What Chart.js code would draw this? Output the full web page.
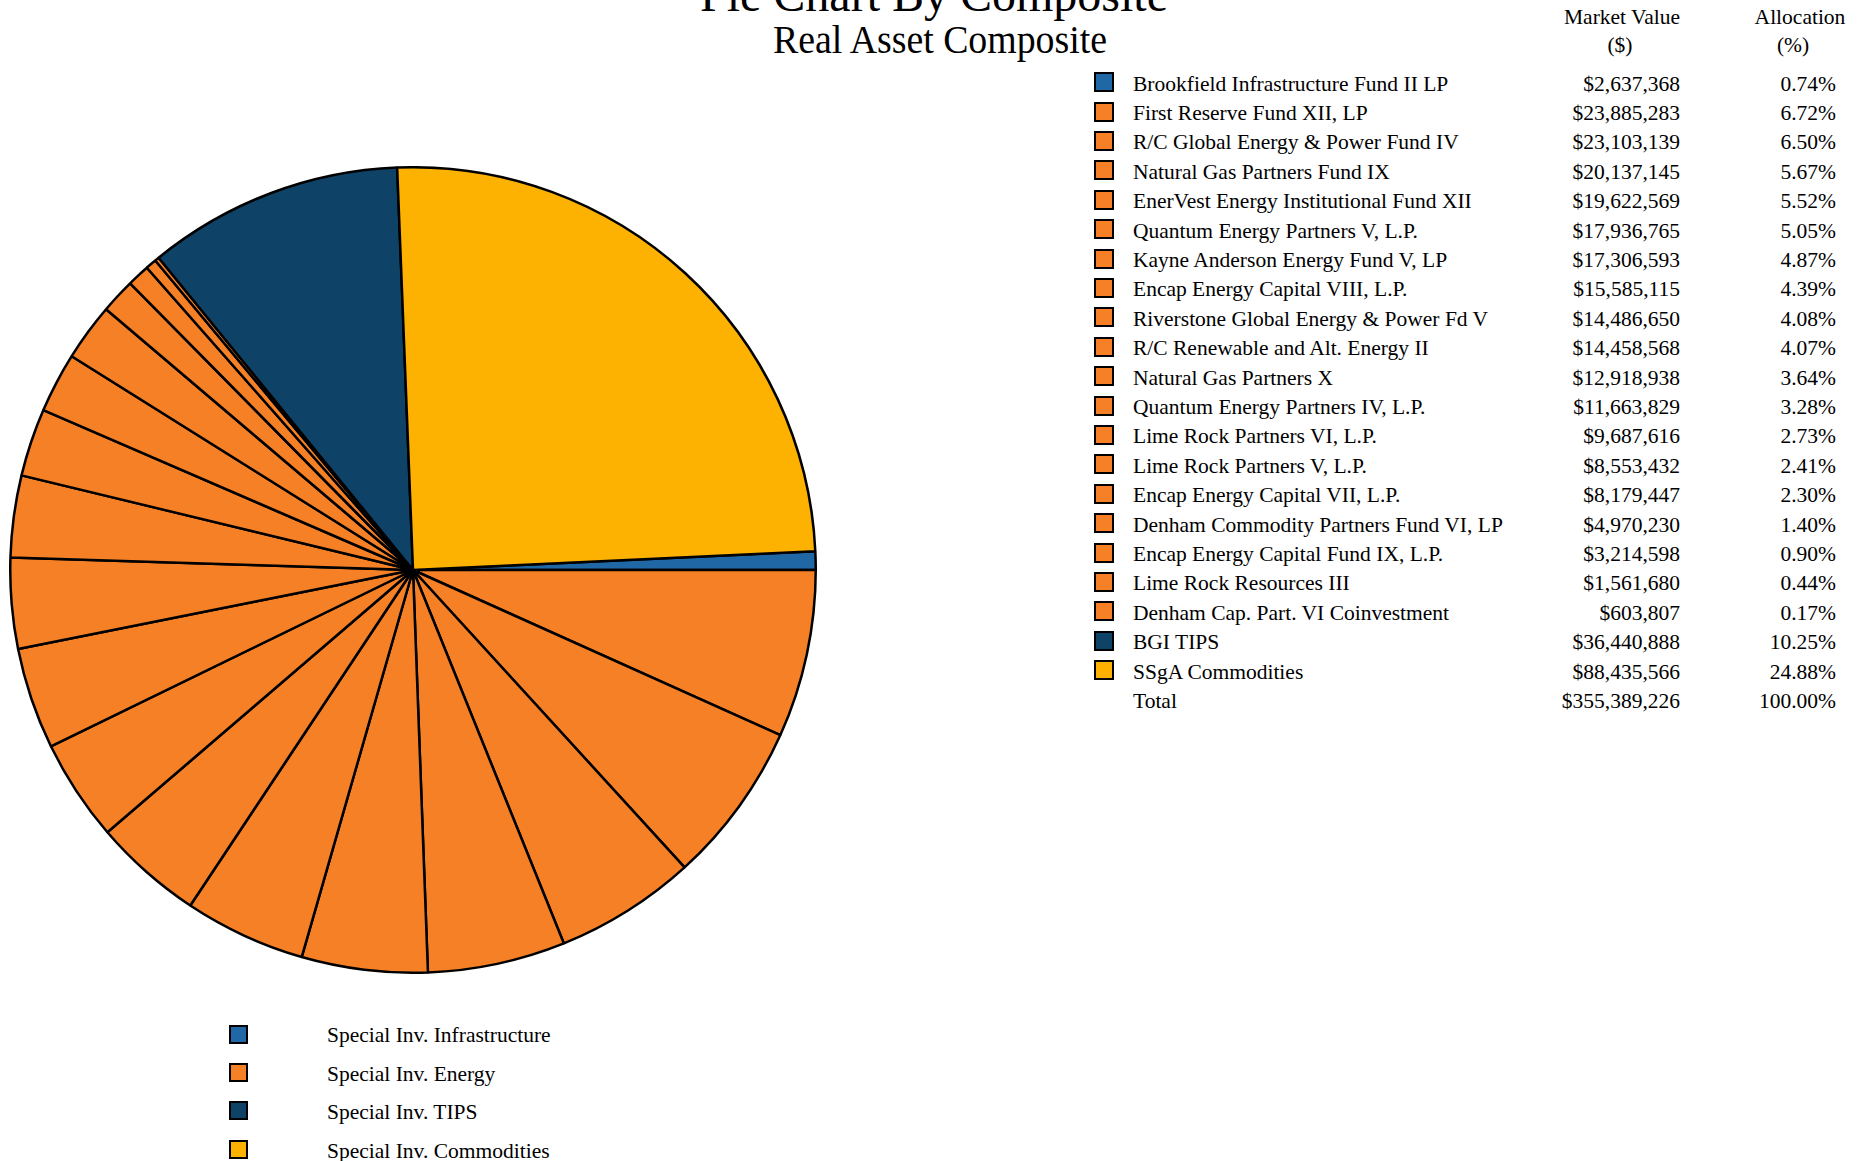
<!DOCTYPE html>
<html>
<head>
<meta charset="utf-8">
<script src="https://cdn.jsdelivr.net/npm/chart.js@4.4.1/dist/chart.umd.min.js"></script>
<style>
  html, body { margin: 0; padding: 0; background: #fff; overflow: hidden; }
  body { width: 1866px; height: 1161px; position: relative; font-family: "Liberation Serif", "Times New Roman", serif; color: #000; }
  .t { position: absolute; white-space: nowrap; line-height: 1; }
  .box { position: absolute; box-sizing: border-box; border: 2px solid #000; }
  #pieWrap { position: absolute; left: 9px; top: 166px; width: 808px; height: 808px; }
</style>
</head>
<body>
<div id="pieWrap"><canvas id="pie"></canvas></div>
<div id="overlay"></div>
<script>
// ---- data ----
const title = "Pie Chart By Composite";
const subtitle = "Real Asset Composite";
const fundNames = [
  "Brookfield Infrastructure Fund II LP",
  "First Reserve Fund XII, LP",
  "R/C Global Energy & Power Fund IV",
  "Natural Gas Partners Fund IX",
  "EnerVest Energy Institutional Fund XII",
  "Quantum Energy Partners V, L.P.",
  "Kayne Anderson Energy Fund V, LP",
  "Encap Energy Capital VIII, L.P.",
  "Riverstone Global Energy & Power Fd V",
  "R/C Renewable and Alt. Energy II",
  "Natural Gas Partners X",
  "Quantum Energy Partners IV, L.P.",
  "Lime Rock Partners VI, L.P.",
  "Lime Rock Partners V, L.P.",
  "Encap Energy Capital VII, L.P.",
  "Denham Commodity Partners Fund VI, LP",
  "Encap Energy Capital Fund IX, L.P.",
  "Lime Rock Resources III",
  "Denham Cap. Part. VI Coinvestment",
  "BGI TIPS",
  "SSgA Commodities"
];
const marketValues = [2637368, 23885283, 23103139, 20137145, 19622569, 17936765, 17306593, 15585115,
  14486650, 14458568, 12918938, 11663829, 9687616, 8553432, 8179447, 4970230, 3214598, 1561680,
  603807, 36440888, 88435566];
const allocations = [0.74, 6.72, 6.50, 5.67, 5.52, 5.05, 4.87, 4.39, 4.08, 4.07, 3.64, 3.28, 2.73,
  2.41, 2.30, 1.40, 0.90, 0.44, 0.17, 10.25, 24.88];
const fundGroup = [0, 1, 1, 1, 1, 1, 1, 1, 1, 1, 1, 1, 1, 1, 1, 1, 1, 1, 1, 2, 3];
const groupLabels = ["Special Inv. Infrastructure", "Special Inv. Energy", "Special Inv. TIPS", "Special Inv. Commodities"];
const totalLabel = "Total";
const totalValue = 355389226;
const totalAllocation = "100.00%";
const headerMarket = ["Market Value", "($)"];
const headerAlloc = ["Allocation", "(%)"];

// ---- styles ----
const groupColors = ["#2067A6", "#F58026", "#0F4267", "#FDB100"];
const FONT = 21.5;

const overlay = document.getElementById('overlay');
function addText(txt, x, baseline, size, align, sx) {
  const d = document.createElement('div');
  d.className = 't';
  d.textContent = txt;
  d.style.fontSize = size + 'px';
  d.style.top = (baseline - 0.8375 * size) + 'px';
  const s = sx ? ' scaleX(' + sx + ')' : '';
  if (align === 'right') { d.style.right = (1866 - x) + 'px'; d.style.transformOrigin = 'right center'; if (s) d.style.transform = s; }
  else if (align === 'center') { d.style.left = x + 'px'; d.style.transform = 'translateX(-50%)' + s; }
  else { d.style.left = x + 'px'; d.style.transformOrigin = 'left center'; if (s) d.style.transform = s; }
  overlay.appendChild(d);
  return d;
}
function addBox(color, x, y, s) {
  const b = document.createElement('div');
  b.className = 'box';
  b.style.left = x + 'px'; b.style.top = y + 'px';
  b.style.width = s + 'px'; b.style.height = s + 'px';
  b.style.background = color;
  overlay.appendChild(b);
}
const money = v => '$' + v.toLocaleString('en-US');

// titles
addText(title, 934, 11.5, 48, 'center');
addText(subtitle, 940, 53, 40, 'center', 0.945);

// table header
addText(headerMarket[0], 1622, 25, FONT, 'center');
addText(headerMarket[1], 1620, 53, FONT, 'center');
addText(headerAlloc[0], 1800, 25, FONT, 'center');
addText(headerAlloc[1], 1793, 53, FONT, 'center');

// table rows
const ROW0 = 91.7, STEP = 29.4;
fundNames.forEach((n, i) => {
  const base = ROW0 + STEP * i;
  addBox(groupColors[fundGroup[i]], 1094, base - 19.5, 20);
  addText(n, 1133, base, FONT, 'left');
  addText(money(marketValues[i]), 1680, base, FONT, 'right');
  addText(allocations[i].toFixed(2) + '%', 1836, base, FONT, 'right');
});
const tb = ROW0 + STEP * fundNames.length;
addText(totalLabel, 1133, tb, FONT, 'left');
addText(money(totalValue), 1680, tb, FONT, 'right');
addText(totalAllocation, 1836, tb, FONT, 'right');

// bottom legend
groupLabels.forEach((g, i) => {
  const base = 1043.5 + 38.4 * i;
  addBox(groupColors[i], 229, base - 19, 19);
  addText(g, 327, base, FONT, 'left');
});

// ---- pie ----
const sum = marketValues.reduce((a, b) => a + b, 0);
new Chart(document.getElementById('pie'), {
  type: 'pie',
  data: {
    labels: fundNames,
    datasets: [{
      data: marketValues,
      backgroundColor: fundGroup.map(g => groupColors[g]),
      borderColor: '#000',
      borderWidth: 2.5
    }]
  },
  options: {
    responsive: true,
    maintainAspectRatio: false,
    animation: false,
    rotation: 90 - marketValues[0] / sum * 360,
    layout: { padding: 0 },
    plugins: { legend: { display: false }, tooltip: { enabled: false }, title: { display: false } }
  }
});
</script>
</body>
</html>
